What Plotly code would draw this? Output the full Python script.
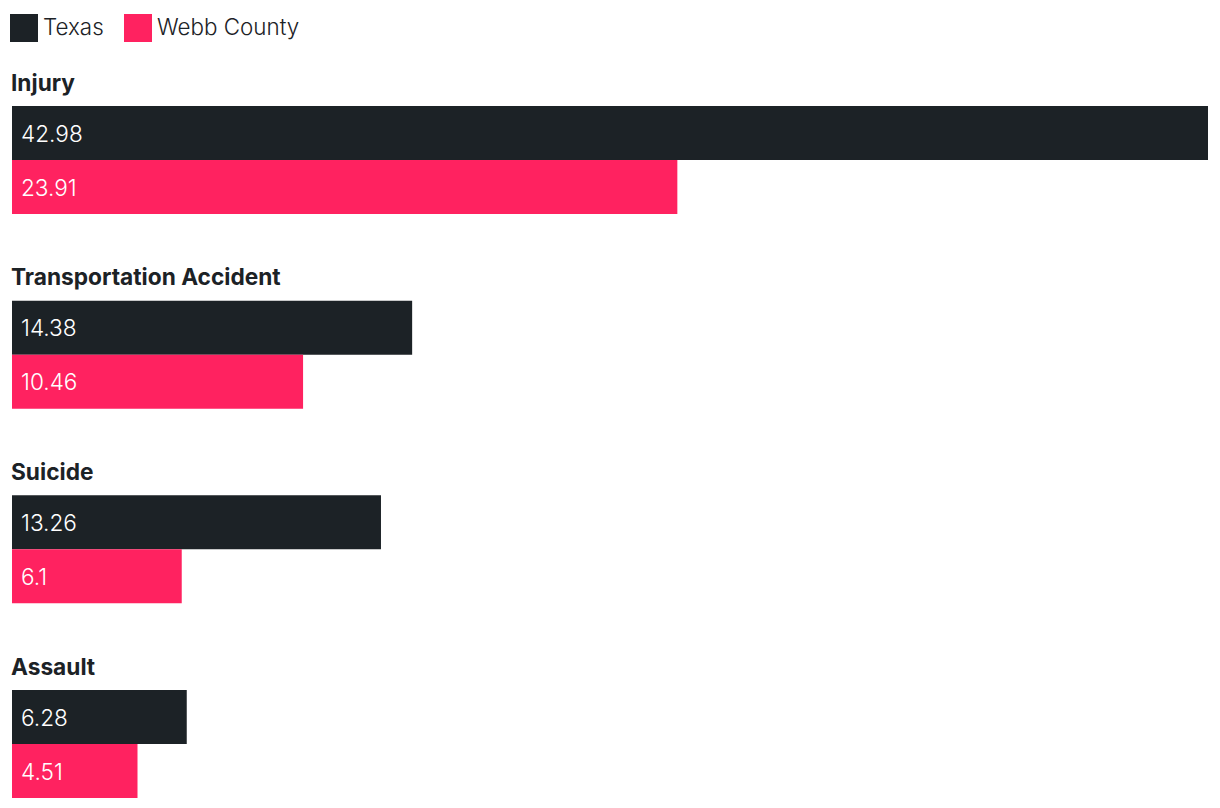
import plotly.graph_objects as go

categories = ["Injury", "Transportation Accident", "Suicide", "Assault"]
texas = [42.98, 14.38, 13.26, 6.28]
webb = [23.91, 10.46, 6.1, 4.51]
series_names = ["Texas", "Webb County"]

DARK = "#1c2226"
PINK = "#ff2260"
W, H = 1220, 808
ML, MR = 12, 12
GROUP = 194.67
BAR = 54
FIRST_TOP = 106

ytex = [FIRST_TOP + BAR / 2 + i * GROUP for i in range(len(categories))]
ywebb = [y + BAR for y in ytex]
ylab = [y - BAR / 2 - 24 for y in ytex]

fig = go.Figure()
fig.add_trace(go.Bar(x=texas, y=ytex, orientation="h", width=BAR,
                     marker=dict(color=DARK, line=dict(width=0)),
                     name=series_names[0], showlegend=False, hoverinfo="x"))
fig.add_trace(go.Bar(x=webb, y=ywebb, orientation="h", width=BAR,
                     marker=dict(color=PINK, line=dict(width=0)),
                     name=series_names[1], showlegend=False, hoverinfo="x"))

ann = []
for i, c in enumerate(categories):
    ann.append(dict(x=0, y=ylab[i], xref="x", yref="y", text=c,
                    showarrow=False, xanchor="left", yanchor="middle", xshift=-3,
                    font=dict(family="Inter", size=22.7, color=DARK, weight=700)))
    ann.append(dict(x=0, y=ytex[i], xref="x", yref="y", text=str(texas[i]),
                    showarrow=False, xanchor="left", yanchor="middle", xshift=7,
                    font=dict(family="Inter", size=22.6, color="white", weight=300)))
    ann.append(dict(x=0, y=ywebb[i], xref="x", yref="y", text=str(webb[i]),
                    showarrow=False, xanchor="left", yanchor="middle", xshift=7,
                    font=dict(family="Inter", size=22.6, color="white", weight=300)))

def px_to_paper_x(px):
    return (px - ML) / (W - ML - MR)

shapes = []
leg_x = [10, 124]
leg_cols = [DARK, PINK]
for lx, col, nm in zip(leg_x, leg_cols, series_names):
    shapes.append(dict(type="rect", xref="paper", yref="y",
                       x0=px_to_paper_x(lx), x1=px_to_paper_x(lx + 28),
                       y0=14, y1=42, fillcolor=col, line=dict(width=0)))
    ann.append(dict(x=px_to_paper_x(lx + 31), y=26, xref="paper", yref="y",
                    text=nm, showarrow=False, xanchor="left", yanchor="middle",
                    font=dict(family="Inter", size=22.4, color=DARK, weight=300)))

fig.update_layout(
    width=W, height=H,
    margin=dict(l=ML, r=MR, t=0, b=0),
    plot_bgcolor="white", paper_bgcolor="white",
    xaxis=dict(range=[0, max(texas)], visible=False, fixedrange=True),
    yaxis=dict(range=[H, 0], visible=False, fixedrange=True),
    annotations=ann, shapes=shapes,
    showlegend=False, barmode="overlay",
)

fig.write_html("out.html")
